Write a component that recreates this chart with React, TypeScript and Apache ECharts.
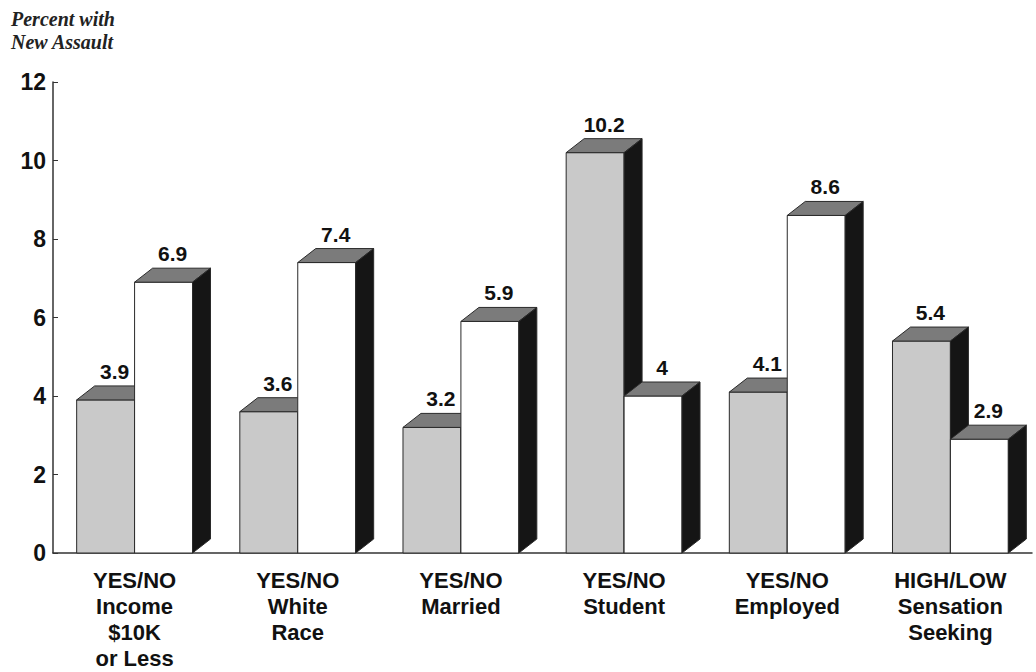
import React, { useEffect, useRef } from "react";
import * as echarts from "echarts";

// Category labels under each pair of bars
const categories: string[] = [
  "YES/NO\nIncome\n$10K\nor Less",
  "YES/NO\nWhite\nRace",
  "YES/NO\nMarried",
  "YES/NO\nStudent",
  "YES/NO\nEmployed",
  "HIGH/LOW\nSensation\nSeeking",
];

// Percent with new assault: first group member (gray) and second (white)
const yesValues: number[] = [3.9, 3.6, 3.2, 10.2, 4.1, 5.4];
const noValues: number[] = [6.9, 7.4, 5.9, 4, 8.6, 2.9];

// Y axis scale
const yMin = 0;
const yMax = 12;
const yStep = 2;

const DEPTH_X = 18;
const DEPTH_Y = 14;
const BAR_FRACTION = 0.355;

const FONT = "'Liberation Sans', Arial, Helvetica, sans-serif";

function makeRenderer(side: "left" | "right", frontColor: string) {
  return (params: any, api: any) => {
    const cat = api.value(0);
    const val = api.value(1);
    const top = api.coord([cat, val]);
    const base = api.coord([cat, 0]);
    const band = api.size([1, 0])[0];
    const w = band * BAR_FRACTION;
    const cx = top[0];
    const x0 = side === "left" ? cx - w : cx;
    const x1 = x0 + w;
    const yTop = top[1];
    const yBase = base[1];
    const stroke = "#2a2a2a";
    return {
      type: "group",
      children: [
        {
          type: "polygon",
          shape: { points: [[x0, yTop], [x1, yTop], [x1, yBase], [x0, yBase]] },
          style: { fill: frontColor, stroke, lineWidth: 1 },
        },
        {
          type: "polygon",
          shape: {
            points: [
              [x0, yTop],
              [x0 + DEPTH_X, yTop - DEPTH_Y],
              [x1 + DEPTH_X, yTop - DEPTH_Y],
              [x1, yTop],
            ],
          },
          style: { fill: "#7b7b7b", stroke, lineWidth: 1 },
        },
        {
          type: "polygon",
          shape: {
            points: [
              [x1, yTop],
              [x1 + DEPTH_X, yTop - DEPTH_Y],
              [x1 + DEPTH_X, yBase - DEPTH_Y],
              [x1, yBase],
            ],
          },
          style: { fill: "#151515", stroke, lineWidth: 1 },
        },
        {
          type: "text",
          x: (x0 + x1) / 2 + DEPTH_X / 2,
          y: yTop - DEPTH_Y - 4,
          style: {
            text: String(val),
            fill: "#111",
            font: `bold 21px ${FONT}`,
            align: "center",
            verticalAlign: "bottom",
          },
        },
      ],
    };
  };
}

export default function App() {
  const ref = useRef<HTMLDivElement>(null);

  useEffect(() => {
    if (!ref.current) return;
    const chart = echarts.init(ref.current, undefined, { renderer: "svg" });
    chart.setOption({
      animation: false,
      backgroundColor: "#ffffff",
      title: {
        text: "Percent with\nNew Assault",
        left: 6,
        top: 2,
        textStyle: {
          fontFamily: "'Liberation Serif', 'Times New Roman', serif",
          fontStyle: "italic",
          fontWeight: "bold",
          fontSize: 20,
          lineHeight: 23,
          color: "#222",
        },
      },
      grid: { left: 53, right: 4, top: 82, bottom: 119, containLabel: false },
      xAxis: {
        type: "category",
        data: categories,
        boundaryGap: true,
        axisLine: { lineStyle: { color: "#333", width: 1.5 } },
        axisTick: { inside: true, length: 6, lineStyle: { color: "#333" } },
        axisLabel: {
          interval: 0,
          margin: 14,
          color: "#111",
          fontFamily: FONT,
          fontWeight: "bold",
          fontSize: 22,
          lineHeight: 26,
        },
      },
      yAxis: {
        type: "value",
        min: yMin,
        max: yMax,
        interval: yStep,
        axisLine: { show: true, lineStyle: { color: "#333", width: 1.5 } },
        axisTick: { show: true, inside: true, length: 5, lineStyle: { color: "#333" } },
        splitLine: { show: false },
        axisLabel: {
          margin: 7,
          color: "#111",
          fontFamily: FONT,
          fontWeight: "bold",
          fontSize: 23,
        },
      },
      series: [
        {
          type: "custom",
          name: "yes",
          renderItem: makeRenderer("left", "#c9c9c9"),
          data: yesValues.map((v, i) => [i, v]),
          encode: { x: 0, y: 1 },
          z: 2,
        },
        {
          type: "custom",
          name: "no",
          renderItem: makeRenderer("right", "#ffffff"),
          data: noValues.map((v, i) => [i, v]),
          encode: { x: 0, y: 1 },
          z: 3,
        },
      ],
    });
    return () => chart.dispose();
  }, []);

  return (
    <div
      ref={ref}
      style={{ position: "fixed", left: 0, top: 0, width: 1036, height: 672, background: "#fff" }}
    />
  );
}
